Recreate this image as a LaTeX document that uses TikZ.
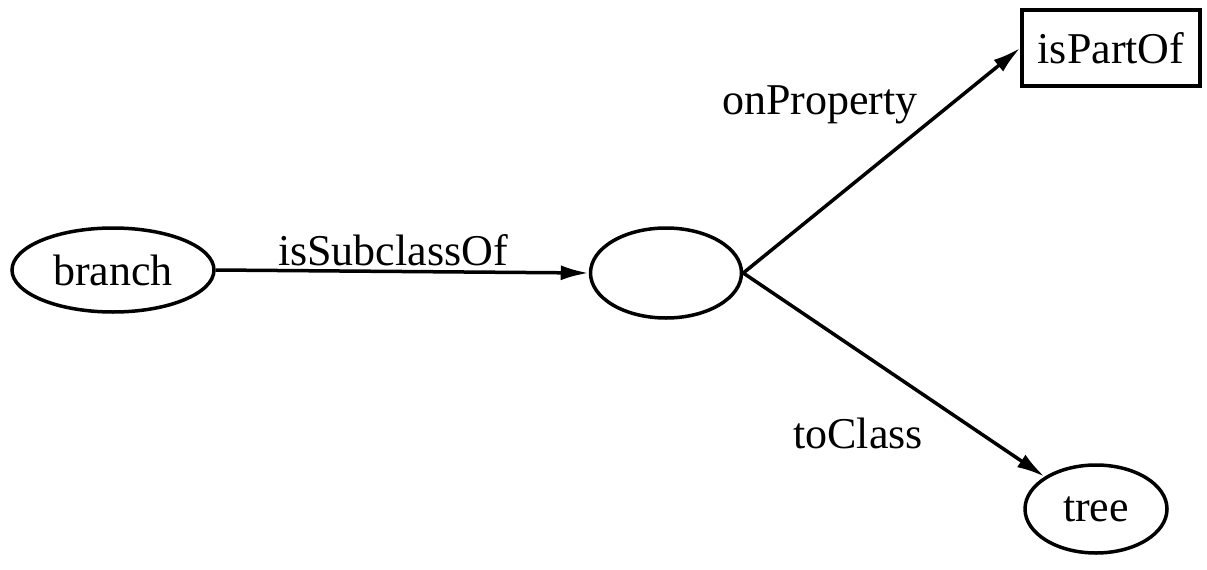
\documentclass[tikz,border=0pt]{standalone}
\usepackage{fontspec}
\setmainfont{Liberation Serif}
\usetikzlibrary{shapes.geometric,arrows.meta}
\begin{document}
\begin{tikzpicture}[x=1pt,y=-1pt,
  lbl/.style={font=\fontsize{44}{50}\selectfont, inner sep=0pt},
  ell/.style={ellipse, draw, line width=3.5pt, inner sep=0pt, font=\fontsize{44}{50}\selectfont},
  box/.style={rectangle, draw, line width=3.5pt, inner sep=0pt, font=\fontsize{44}{50}\selectfont},
  conn/.style={line width=3.5pt, -{Latex[length=28pt,width=15pt]}}]
\useasboundingbox (0,0) rectangle (1207,570);
\node[ell, minimum width=202pt, minimum height=84pt] (branch) at (113,270) {branch};
\node[ell, minimum width=151pt, minimum height=90pt] (mid) at (666,273) {};
\node[box, minimum width=178pt, minimum height=76pt] (part) at (1111,48) {isPartOf};
\node[ell, minimum width=142pt, minimum height=88pt] (tree) at (1096,509) {tree};
\draw[conn] (branch.east) -- (mid.west);
\draw[conn] (mid.east) -- (part.west);
\draw[conn] (mid.east) -- (tree.north west);
\node[lbl] (l1) at (393,250) {isSubclassOf};
\node[lbl] (l2) at (820,105) {onProperty};
\node[lbl] (l3) at (858,433) {toClass};
\end{tikzpicture}
\end{document}
